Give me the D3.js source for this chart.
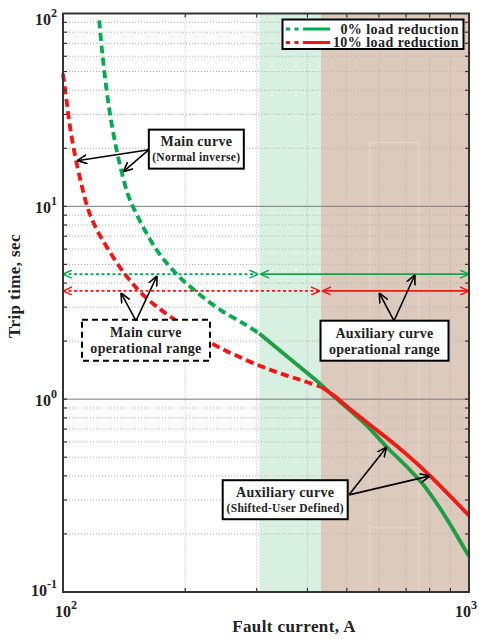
<!DOCTYPE html>
<html>
<head>
<meta charset="utf-8">
<script src="https://cdn.jsdelivr.net/npm/d3@7"></script>
<style>
  body { margin: 0; background: #fff; }
  svg text { font-family: "Liberation Serif", "Times New Roman", serif; font-weight: bold; fill: #222; }
</style>
</head>
<body>
<svg id="chart" width="479" height="639"></svg>
<script>
// main curve (normal inverse), dashed part  [current A, time s]
const mainGreen = [[122.8, 92], [124.8, 64], [128.1, 39.8], [131.8, 26.7], [136.8, 17.9], [143.5, 12.05],
  [147.6, 10.3], [168.5, 6.12], [188.8, 4.54], [211.4, 3.65], [246, 2.87], [280, 2.45], [304.5, 2.19]];
const mainRed = [[100, 48.6], [102.1, 35], [104, 26], [107, 18.5], [111.2, 12.8], [115.4, 9.6],
  [119.9, 7.9], [126.9, 6.37], [142.1, 4.45], [159.2, 3.4], [185.1, 2.65], [232.3, 1.95], [280, 1.61],
  [330, 1.40], [383.6, 1.26], [432, 1.16]];

// auxiliary curve (shifted user defined), solid part
const auxGreen = [[304.5, 2.19], [362, 1.62], [432, 1.19], [463, 1.04], [509, 0.875], [560, 0.73],
  [627, 0.565], [700, 0.45], [772, 0.36], [865, 0.255], [1000, 0.153]];
const auxRed = [[432, 1.16], [463, 1.05], [509, 0.89], [604, 0.67], [700, 0.52], [802, 0.4], [1000, 0.249]];

// operational ranges: time level, start, switch, end current
const rangeTime = [4.45, 3.64];
const rangeLimits = [[100, 304.5, 1000], [100, 432, 1000]];

// shaded zones (current A)
const greenZone = [304.5, 432];
const brownZone = [432, 1000];

const legendLabels = ["0% load reduction", "10% load reduction"];
const seriesColors = ["#00ad4e", "#ff1010"];
const auxColors = ["#1f9e45", "#f01a12"];

const xTicks = [100, 1000];
const yTicks = [0.1, 1, 10, 100];

// 画布
const W = 479, H = 639;
const mLeft = 63, mRight = 469, mTop = 13.5, mBottom = 592;

const x = d3.scaleLog().domain([100, 1000]).range([mLeft, mRight]);
const y = d3.scaleLog().domain([0.1, 100]).range([mBottom, mTop]);

const svg = d3.select("#chart");

// zones
svg.append("rect").attr("x", x(greenZone[0])).attr("y", mTop)
  .attr("width", x(greenZone[1]) - x(greenZone[0])).attr("height", mBottom - mTop)
  .attr("fill", "#d8f0e2");
svg.append("rect").attr("x", x(brownZone[0])).attr("y", mTop)
  .attr("width", x(brownZone[1]) - x(brownZone[0])).attr("height", mBottom - mTop)
  .attr("fill", "#dccabd");
// faint leftover box in the zone
svg.append("rect").attr("x", x(570)).attr("y", y(21.4))
  .attr("width", x(753) - x(570)).attr("height", mBottom - y(21.4))
  .attr("fill", "none").attr("stroke", "#e6d9ce").attr("stroke-width", 1);
svg.append("line").attr("x1", x(570)).attr("x2", x(753)).attr("y1", y(0.215)).attr("y2", y(0.215))
  .attr("stroke", "#e6d9ce");

// minor grid values
let xMinor = [];
for (let k = 2; k <= 9; k++) xMinor.push(k * 100);
let yMinor = [];
[0.1, 1, 10].forEach(function (d) {
  for (let k = 2; k <= 9; k++) yMinor.push(k * d);
});

let grid = svg.append("g");
grid.selectAll(".gx").data(xMinor).enter().append("line")
  .attr("x1", d => x(d)).attr("x2", d => x(d)).attr("y1", mTop).attr("y2", mBottom)
  .attr("stroke", "#b4b4b4").attr("stroke-width", 1).attr("stroke-dasharray", "1,2");
grid.selectAll(".gy").data(yMinor).enter().append("line")
  .attr("x1", mLeft).attr("x2", mRight).attr("y1", d => y(d)).attr("y2", d => y(d))
  .attr("stroke", "#b4b4b4").attr("stroke-width", 1).attr("stroke-dasharray", "1,2");
grid.selectAll(".gmaj").data([1, 10]).enter().append("line")
  .attr("x1", mLeft).attr("x2", mRight).attr("y1", d => y(d)).attr("y2", d => y(d))
  .attr("stroke", "#7a7a7a").attr("stroke-width", 1);

// markers for range arrows
let defs = svg.append("defs");
function addMarker(id, color, size) {
  defs.append("marker").attr("id", id)
    .attr("viewBox", "0 -5 10 10").attr("refX", 10).attr("refY", 0)
    .attr("markerUnits", "userSpaceOnUse")
    .attr("markerWidth", size).attr("markerHeight", size)
    .attr("orient", "auto-start-reverse")
    .append("path").attr("d", "M0,-4.5L10,0L0,4.5")
    .attr("fill", "none").attr("stroke", color).attr("stroke-width", 1.6);
}
addMarker("arrG", seriesColors[0], 9);
addMarker("arrR", seriesColors[1], 9);
addMarker("arrK", "#000", 10);

// range lines
let ranges = svg.append("g");
rangeTime.forEach(function (t, i) {
  let lim = rangeLimits[i];
  let id = i === 0 ? "arrG" : "arrR";
  ranges.append("line")
    .attr("x1", x(lim[0])).attr("x2", x(lim[1]) - 1).attr("y1", y(t)).attr("y2", y(t))
    .attr("stroke", seriesColors[i]).attr("stroke-width", 1.8).attr("stroke-dasharray", "3,2.5")
    .attr("marker-start", "url(#" + id + ")").attr("marker-end", "url(#" + id + ")");
  ranges.append("line")
    .attr("x1", x(lim[1]) + 1).attr("x2", x(lim[2])).attr("y1", y(t)).attr("y2", y(t))
    .attr("stroke", auxColors[i]).attr("stroke-width", 1.8)
    .attr("marker-start", "url(#" + id + ")").attr("marker-end", "url(#" + id + ")");
});

// curves
let line = d3.line().x(d => x(d[0])).y(d => y(d[1])).curve(d3.curveCatmullRom.alpha(0.5));
let curves = svg.append("g");
curves.append("path").datum(mainGreen).attr("d", line).attr("fill", "none")
  .attr("stroke", seriesColors[0]).attr("stroke-width", 3.8).attr("stroke-dasharray", "8,4.5");
curves.append("path").datum(mainRed).attr("d", line).attr("fill", "none")
  .attr("stroke", seriesColors[1]).attr("stroke-width", 3.8).attr("stroke-dasharray", "8,4.5");
curves.append("path").datum(auxGreen).attr("d", line).attr("fill", "none")
  .attr("stroke", auxColors[0]).attr("stroke-width", 3.8);
curves.append("path").datum(auxRed).attr("d", line).attr("fill", "none")
  .attr("stroke", auxColors[1]).attr("stroke-width", 3.8);

// ticks (inward, all four sides)
let ticks = svg.append("g").attr("stroke", "#333").attr("stroke-width", 1.2);
xMinor.forEach(function (d) {
  ticks.append("line").attr("x1", x(d)).attr("x2", x(d)).attr("y1", mBottom).attr("y2", mBottom - 4);
  ticks.append("line").attr("x1", x(d)).attr("x2", x(d)).attr("y1", mTop).attr("y2", mTop + 4);
});
yMinor.concat([1, 10]).forEach(function (d) {
  ticks.append("line").attr("x1", mLeft).attr("x2", mLeft + 4).attr("y1", y(d)).attr("y2", y(d));
  ticks.append("line").attr("x1", mRight).attr("x2", mRight - 4).attr("y1", y(d)).attr("y2", y(d));
});

// frame
svg.append("rect").attr("x", mLeft).attr("y", mTop)
  .attr("width", mRight - mLeft).attr("height", mBottom - mTop)
  .attr("fill", "none").attr("stroke", "#333").attr("stroke-width", 2);

// annotation boxes (positioned in data space)
const annotations = [
  {lines: ["Main curve", "(Normal inverse)"], at: [213, 19.8], w: 95, h: 39, dashed: false,
    from: [162.8, 19.67], to: [[108.3, 17.25], [140.6, 15.1]]},
  {lines: ["Main curve", "operational range"], at: [160.1, 2.02], w: 128, h: 41, dashed: true,
    from: [151.3, 2.55], to: [[138.9, 3.56], [170.4, 4.36]]},
  {lines: ["Auxiliary curve", "operational range"], at: [619.3, 2.01], w: 128, h: 40, dashed: false,
    from: [653.6, 2.55], to: [[601, 3.56], [736, 4.42]]},
  {lines: ["Auxiliary curve", "(Shifted-User Defined)"], at: [352.6, 0.301], w: 125, h: 39, dashed: false,
    from: [506.4, 0.319], to: [[627, 0.565], [802, 0.4]]}
];

let anno = svg.append("g");
annotations.forEach(function (a) {
  let cx = x(a.at[0]), cy = y(a.at[1]);
  anno.append("rect").attr("x", cx - a.w / 2).attr("y", cy - a.h / 2)
    .attr("width", a.w).attr("height", a.h)
    .attr("fill", "#fff").attr("stroke", "#000").attr("stroke-width", 2)
    .attr("stroke-dasharray", a.dashed ? "6,4" : null);
  let small = a.lines[1].charAt(0) === "(";
  anno.append("text").attr("x", cx).attr("y", cy - 3).attr("text-anchor", "middle")
    .style("font-size", "14px").style("letter-spacing", "0.3px").text(a.lines[0]);
  anno.append("text").attr("x", cx).attr("y", cy + (small ? 12 : 13)).attr("text-anchor", "middle")
    .style("font-size", small ? "11.5px" : "14px").style("letter-spacing", "0.3px").text(a.lines[1]);
  a.to.forEach(function (p) {
    anno.append("line").attr("x1", x(a.from[0])).attr("y1", y(a.from[1]))
      .attr("x2", x(p[0])).attr("y2", y(p[1]))
      .attr("stroke", "#000").attr("stroke-width", 1.6).attr("marker-end", "url(#arrK)");
  });
});

// legend
let lg = svg.append("g");
lg.append("rect").attr("x", 282.5).attr("y", 19.5).attr("width", 181).attr("height", 29.5)
  .attr("fill", "#fff").attr("stroke", "#000").attr("stroke-width", 2);
legendLabels.forEach(function (name, i) {
  let ly = 29 + i * 13.5;
  lg.append("line").attr("x1", 286).attr("x2", 299).attr("y1", ly).attr("y2", ly)
    .attr("stroke", seriesColors[i]).attr("stroke-width", 3).attr("stroke-dasharray", "4,4.5");
  lg.append("line").attr("x1", 303).attr("x2", 330).attr("y1", ly).attr("y2", ly)
    .attr("stroke", seriesColors[i]).attr("stroke-width", 3);
  lg.append("text").attr("x", 459).attr("y", ly + 4.8).attr("text-anchor", "end")
    .style("font-size", "14px").style("letter-spacing", "0.45px").text(name);
});

// tick labels
function powLabel(g, v) {
  let e = Math.round(Math.log10(v));
  g.append("tspan").text("10");
  g.append("tspan").attr("dy", -8).style("font-size", "12px").text(e);
}
yTicks.forEach(function (v, i) {
  // end labels are nudged inward like the original
  let shift = i === yTicks.length - 1 ? 4 : (i === 0 ? -3 : 0);
  let t = svg.append("text").attr("x", 57).attr("y", y(v) + 7 + shift).attr("text-anchor", "end")
    .style("font-size", "16px");
  powLabel(t, v);
});
xTicks.forEach(function (v, i) {
  let t = svg.append("text").attr("x", i === 0 ? x(v) + 3 : 477)
    .attr("y", 617).attr("text-anchor", i === 0 ? "middle" : "end")
    .style("font-size", "16px");
  powLabel(t, v);
});

// axis titles
svg.append("text").attr("x", 294).attr("y", 632).attr("text-anchor", "middle")
  .style("font-size", "17px").style("letter-spacing", "0.4px").text("Fault current, A");
svg.append("text").attr("transform", "translate(20,286) rotate(-90)").attr("text-anchor", "middle")
  .style("font-size", "17px").style("letter-spacing", "0.4px").text("Trip time, sec");
</script>
</body>
</html>
